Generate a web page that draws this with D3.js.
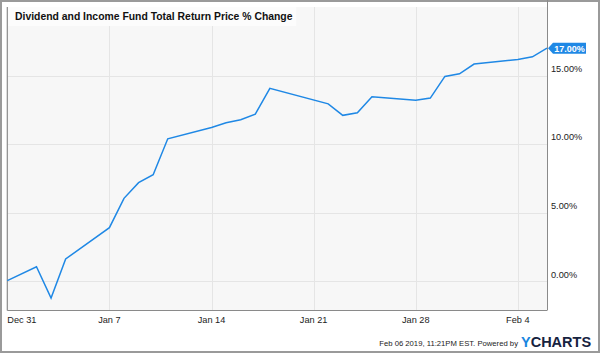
<!DOCTYPE html>
<html lang="en">
<head>
<meta charset="utf-8">
<title>Dividend and Income Fund Total Return Price % Change</title>
<script src="https://d3js.org/d3.v7.min.js"></script>
<style>
  body { margin: 0; background: #fff; }
  svg text { font-family: "Liberation Sans", Arial, sans-serif; }
  .grid line { stroke: #e5e5e5; stroke-width: 1; }
  .ticks { font-size: 9.2px; fill: #222; }
</style>
</head>
<body>
<script>
// trading days and total return price % change
var dates = ["2018-12-31","2019-01-02","2019-01-03","2019-01-04","2019-01-07","2019-01-08",
  "2019-01-09","2019-01-10","2019-01-11","2019-01-14","2019-01-15","2019-01-16","2019-01-17",
  "2019-01-18","2019-01-22","2019-01-23","2019-01-24","2019-01-25","2019-01-28","2019-01-29",
  "2019-01-30","2019-01-31","2019-02-01","2019-02-04","2019-02-05","2019-02-06"];
var values = [0.05,1.06,-1.22,1.63,3.91,6.05,7.19,7.77,10.39,11.22,11.56,11.78,12.19,
  14.07,12.94,12.10,12.29,13.45,13.21,13.36,14.94,15.13,15.84,16.18,16.37,17.00];
var xTicks = ["2018-12-31","2019-01-07","2019-01-14","2019-01-21","2019-01-28","2019-02-04"];
var xTickLabels = ["Dec 31","Jan 7","Jan 14","Jan 21","Jan 28","Feb 4"];
var yTicks = [0, 5, 10, 15];

var width = 600, height = 353;
var pLeft = 7.3, pRight = 547, pTop = 7, pBottom = 310;
var parse = d3.timeParse("%Y-%m-%d");
var data = dates.map(function(d, i) { return {date: parse(d), value: values[i]}; });

var svg = d3.select("body").append("svg")
    .attr("width", width)
    .attr("height", height);

var x = d3.scaleTime()
    .domain([parse("2018-12-31"), parse("2019-02-06")])
    .range([pLeft, pRight]);
var y = d3.scaleLinear()
    .domain([-2.09, 20])
    .range([pBottom, pTop]);

// outer frame
svg.append("rect")
    .attr("x", 1).attr("y", 1)
    .attr("width", width - 2).attr("height", height - 2)
    .attr("fill", "#fff")
    .attr("stroke", "#9a9a9a")
    .attr("stroke-width", 2);

// plot background
svg.append("rect")
    .attr("x", pLeft).attr("y", pTop)
    .attr("width", pRight - pLeft).attr("height", pBottom - pTop)
    .attr("fill", "#f7f7f7");

var grid = svg.append("g").attr("class", "grid");
grid.selectAll("line.h")
    .data(yTicks)
  .enter().append("line")
    .attr("class", "h")
    .attr("x1", pLeft).attr("x2", pRight)
    .attr("y1", function(d) { return Math.round(y(d)) + 0.5; })
    .attr("y2", function(d) { return Math.round(y(d)) + 0.5; });
grid.selectAll("line.v")
    .data(xTicks.slice(1))
  .enter().append("line")
    .attr("class", "v")
    .attr("y1", pTop).attr("y2", pBottom)
    .attr("x1", function(d) { return Math.round(x(parse(d))) + 0.5; })
    .attr("x2", function(d) { return Math.round(x(parse(d))) + 0.5; });

// title box
svg.append("rect")
    .attr("x", pLeft).attr("y", pTop)
    .attr("width", 289).attr("height", 19)
    .attr("fill", "#fcfcfc");
svg.append("text")
    .attr("x", 15).attr("y", 20)
    .attr("font-size", "10.4px")
    .attr("font-weight", "bold")
    .attr("fill", "#111")
    .text("Dividend and Income Fund Total Return Price % Change");

// axis borders
svg.append("line")
    .attr("x1", pLeft).attr("x2", pLeft).attr("y1", pTop).attr("y2", pBottom + 0.5)
    .attr("stroke", "#8a8a8a").attr("stroke-width", 1.2);
svg.append("line")
    .attr("x1", pLeft).attr("x2", pRight).attr("y1", pBottom + 0.5).attr("y2", pBottom + 0.5)
    .attr("stroke", "#8a8a8a");
svg.append("line")
    .attr("x1", pRight + 0.5).attr("x2", pRight + 0.5).attr("y1", 0).attr("y2", pBottom + 0.5)
    .attr("stroke", "#8a8a8a");

// line
var line = d3.line()
    .x(function(d) { return x(d.date); })
    .y(function(d) { return y(d.value); });
svg.append("path")
    .datum(data)
    .attr("fill", "none")
    .attr("stroke", "#1f88e5")
    .attr("stroke-width", 1.5)
    .attr("stroke-linejoin", "miter")
    .attr("d", line);

// y tick labels
svg.append("g")
    .attr("class", "ticks")
  .selectAll("text")
    .data(yTicks)
  .enter().append("text")
    .attr("x", 551)
    .attr("y", function(d) { return y(d) - 3.8; })
    .text(function(d) { return d.toFixed(2) + "%"; });

// x tick labels
svg.append("g")
    .attr("class", "ticks")
  .selectAll("text")
    .data(xTicks)
  .enter().append("text")
    .attr("x", function(d, i) { return i === 0 ? pLeft : x(parse(d)); })
    .attr("y", 322.5)
    .attr("text-anchor", function(d, i) { return i === 0 ? "start" : "middle"; })
    .text(function(d, i) { return xTickLabels[i]; });

// last value flag
var last = data[data.length - 1];
var ly = y(last.value), lx = pRight + 1;
svg.append("path")
    .attr("d", "M" + lx + "," + ly + "L" + (lx + 5) + "," + (ly - 5.5) + "H" + 586 +
      "V" + (ly + 5.5) + "H" + (lx + 5) + "Z")
    .attr("fill", "#1f88e5");
svg.append("text")
    .attr("x", 554.3).attr("y", ly + 3.4)
    .attr("font-size", "9px")
    .attr("font-weight", "bold")
    .attr("fill", "#fff")
    .text(last.value.toFixed(2) + "%");

// footer
svg.append("text")
    .attr("x", 518).attr("y", 346)
    .attr("text-anchor", "end")
    .attr("font-size", "7.7px")
    .attr("fill", "#222")
    .text("Feb 06 2019, 11:21PM EST.  Powered by");
var logo = svg.append("text")
    .attr("x", 521).attr("y", 346.5)
    .attr("font-size", "14.5px")
    .attr("font-weight", "bold");
logo.append("tspan").attr("fill", "#1a86e0").text("Y");
logo.append("tspan").attr("fill", "#16233f").text("CHARTS");
</script>
</body>
</html>
